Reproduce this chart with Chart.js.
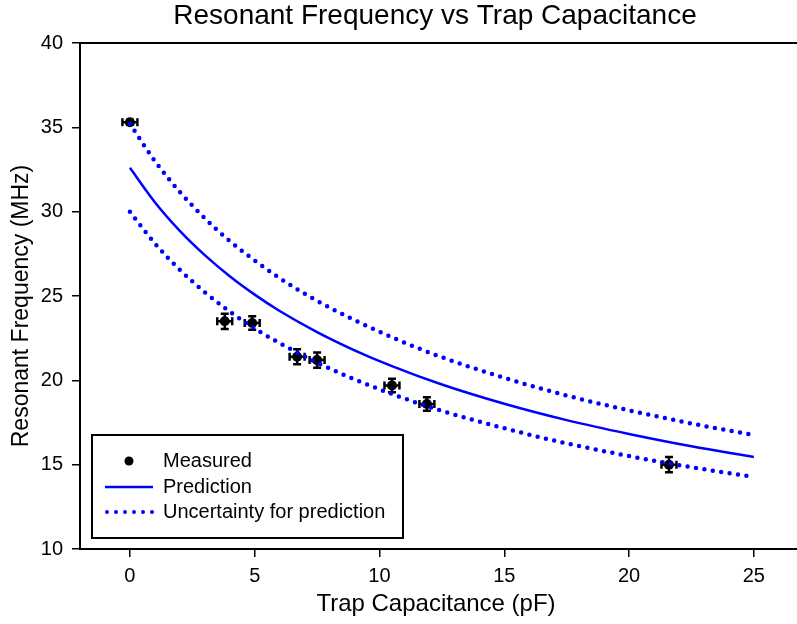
<!DOCTYPE html>
<html>
<head>
<meta charset="utf-8">
<script src="https://cdn.jsdelivr.net/npm/chart.js@4.4.0/dist/chart.umd.min.js"></script>
<style>
    html, body { margin: 0; padding: 0; background: #fff; }
</style>
</head>
<body>
<canvas id="freqChart" width="797" height="624"></canvas>
<script>
// measured points (pF, MHz) and their error bars
const capacitance = [0, 3.8, 4.9, 6.7, 7.5, 10.5, 11.9, 21.6];
const measured = [35.3, 23.5, 23.4, 21.4, 21.2, 19.7, 18.6, 15.0];
const capErr = [0.3, 0.3, 0.3, 0.3, 0.3, 0.3, 0.3, 0.3];
const freqErr = [0.15, 0.45, 0.4, 0.45, 0.45, 0.4, 0.4, 0.45];

// prediction curve and uncertainty band
const curveCap = [0, 1, 2, 3, 4, 5, 6, 7.5, 9, 10.5, 12.5, 15, 17.5, 20, 22.5, 25];
const prediction = [32.6, 30.56, 28.86, 27.42, 26.17, 25.08, 24.11, 22.86, 21.78, 20.84, 19.75, 18.61, 17.64, 16.82, 16.09, 15.46];
const upperBand = [35.21, 33.0, 31.17, 29.61, 28.26, 27.11, 26.06, 24.71, 23.57, 22.55, 21.37, 20.15, 19.1, 18.22, 17.44, 16.76];
const lowerBand = [29.99, 28.12, 26.55, 25.23, 24.08, 23.07, 22.21, 21.05, 20.06, 19.19, 18.19, 17.16, 16.26, 15.51, 14.85, 14.27];

const xTicks = [0, 5, 10, 15, 20, 25];
const FONT = '"Liberation Sans", Arial, sans-serif';
const BLUE = '#0000ff';

function toXY(xs, ys) {
    return xs.map((x, i) => ({ x: x, y: ys[i] }));
}

const extrasPlugin = {
    id: 'extras',
    beforeDatasetsDraw(chart) {
        // error bars under the markers
        const ctx = chart.ctx;
        const xs = chart.scales.x, ys = chart.scales.y;
        ctx.save();
        ctx.strokeStyle = '#000';
        ctx.lineWidth = 2.5;
        const cap = 4;
        capacitance.forEach((c, i) => {
            const px = xs.getPixelForValue(c);
            const py = ys.getPixelForValue(measured[i]);
            const x1 = xs.getPixelForValue(c - capErr[i]);
            const x2 = xs.getPixelForValue(c + capErr[i]);
            const y1 = ys.getPixelForValue(measured[i] + freqErr[i]);
            const y2 = ys.getPixelForValue(measured[i] - freqErr[i]);
            ctx.beginPath();
            ctx.moveTo(x1, py); ctx.lineTo(x2, py);
            ctx.moveTo(x1, py - cap); ctx.lineTo(x1, py + cap);
            ctx.moveTo(x2, py - cap); ctx.lineTo(x2, py + cap);
            ctx.moveTo(px, y1); ctx.lineTo(px, y2);
            ctx.moveTo(px - cap, y1); ctx.lineTo(px + cap, y1);
            ctx.moveTo(px - cap, y2); ctx.lineTo(px + cap, y2);
            ctx.stroke();
        });
        ctx.restore();
    },
    afterDraw(chart) {
        const ctx = chart.ctx;
        const area = chart.chartArea;
        ctx.save();

        // top frame line, and axis line carried on to the edge
        ctx.strokeStyle = '#000';
        ctx.lineWidth = 2;
        ctx.beginPath();
        ctx.moveTo(area.left, area.top);
        ctx.lineTo(chart.width, area.top);
        ctx.moveTo(area.right - 2, area.bottom);
        ctx.lineTo(chart.width, area.bottom);
        ctx.stroke();

        // title
        ctx.fillStyle = '#000';
        ctx.font = '28px ' + FONT;
        ctx.textAlign = 'center';
        ctx.textBaseline = 'middle';
        ctx.fillText('Resonant Frequency vs Trap Capacitance', 435, 16);

        // y axis title
        ctx.save();
        ctx.translate(22, 306);
        ctx.rotate(-Math.PI / 2);
        ctx.font = '23px ' + FONT;
        ctx.fillText('Resonant Frequency (MHz)', 0, 0);
        ctx.restore();

        // legend box
        const bx = area.left + 12, by = area.bottom - 114, bw = 311, bh = 103;
        ctx.lineWidth = 2;
        ctx.strokeRect(bx, by, bw, bh);
        ctx.font = '20px ' + FONT;
        ctx.textAlign = 'left';
        const rows = [by + 26, by + 52, by + 77];
        const sx1 = bx + 13, sx2 = bx + 61, tx = bx + 71;

        ctx.beginPath();
        ctx.arc((sx1 + sx2) / 2, rows[0], 4.5, 0, Math.PI * 2);
        ctx.fill();

        ctx.strokeStyle = BLUE;
        ctx.lineWidth = 2.5;
        ctx.beginPath();
        ctx.moveTo(sx1, rows[1]); ctx.lineTo(sx2, rows[1]);
        ctx.stroke();

        ctx.lineWidth = 4;
        ctx.lineCap = 'round';
        ctx.setLineDash([0, 9]);
        ctx.beginPath();
        ctx.moveTo(sx1 + 2, rows[2]); ctx.lineTo(sx2, rows[2]);
        ctx.stroke();
        ctx.setLineDash([]);

        ctx.fillStyle = '#000';
        ctx.fillText('Measured', tx, rows[0]);
        ctx.fillText('Prediction', tx, rows[1]);
        ctx.fillText('Uncertainty for prediction', tx, rows[2]);
        ctx.restore();
    }
};

const dottedStyle = {
    borderColor: BLUE,
    borderWidth: 4.5,
    borderDash: [0, 8.5],
    borderCapStyle: 'round',
    pointRadius: 0,
    fill: false,
    cubicInterpolationMode: 'monotone'
};

new Chart(document.getElementById('freqChart'), {
    type: 'scatter',
    data: {
        datasets: [
            Object.assign({ label: 'Uncertainty upper', data: toXY(curveCap, upperBand), showLine: true }, dottedStyle),
            Object.assign({ label: 'Uncertainty lower', data: toXY(curveCap, lowerBand), showLine: true }, dottedStyle),
            {
                label: 'Prediction',
                data: toXY(curveCap, prediction),
                showLine: true,
                borderColor: BLUE,
                borderWidth: 2.5,
                pointRadius: 0,
                fill: false,
                cubicInterpolationMode: 'monotone'
            },
            {
                label: 'Measured',
                data: toXY(capacitance, measured),
                showLine: false,
                pointRadius: 5,
                pointBackgroundColor: '#000',
                pointBorderColor: '#000',
                pointBorderWidth: 0
            }
        ]
    },
    options: {
        responsive: false,
        animation: false,
        devicePixelRatio: 1,
        layout: { padding: { top: 43, right: 0, left: 0, bottom: 0 } },
        plugins: {
            legend: { display: false },
            title: { display: false },
            tooltip: { enabled: false }
        },
        scales: {
            x: {
                type: 'linear',
                min: -2,
                max: 26.53,
                afterBuildTicks: (scale) => { scale.ticks = xTicks.map(v => ({ value: v })); },
                afterFit: (scale) => {
                    scale.height = 75;
                    scale.paddingLeft = 0;
                    scale.paddingRight = 0;
                },
                border: { color: '#000', width: 2 },
                grid: { drawOnChartArea: false, drawTicks: true, tickLength: 8, color: '#000', lineWidth: 1.5 },
                ticks: { color: '#000', font: { family: FONT, size: 20 }, padding: 7 },
                title: { display: true, text: 'Trap Capacitance (pF)', color: '#000', font: { family: FONT, size: 24 }, padding: { top: 0, bottom: 5 } }
            },
            y: {
                type: 'linear',
                min: 10,
                max: 40,
                ticks: { stepSize: 5, color: '#000', font: { family: FONT, size: 20 }, padding: 9 },
                afterFit: (scale) => {
                    scale.width = 80;
                    scale.paddingTop = 0;
                    scale.paddingBottom = 0;
                },
                border: { color: '#000', width: 2 },
                grid: { drawOnChartArea: false, drawTicks: true, tickLength: 8, color: '#000', lineWidth: 1.5 },
                title: { display: false }
            }
        }
    },
    plugins: [extrasPlugin]
});
</script>
</body>
</html>
